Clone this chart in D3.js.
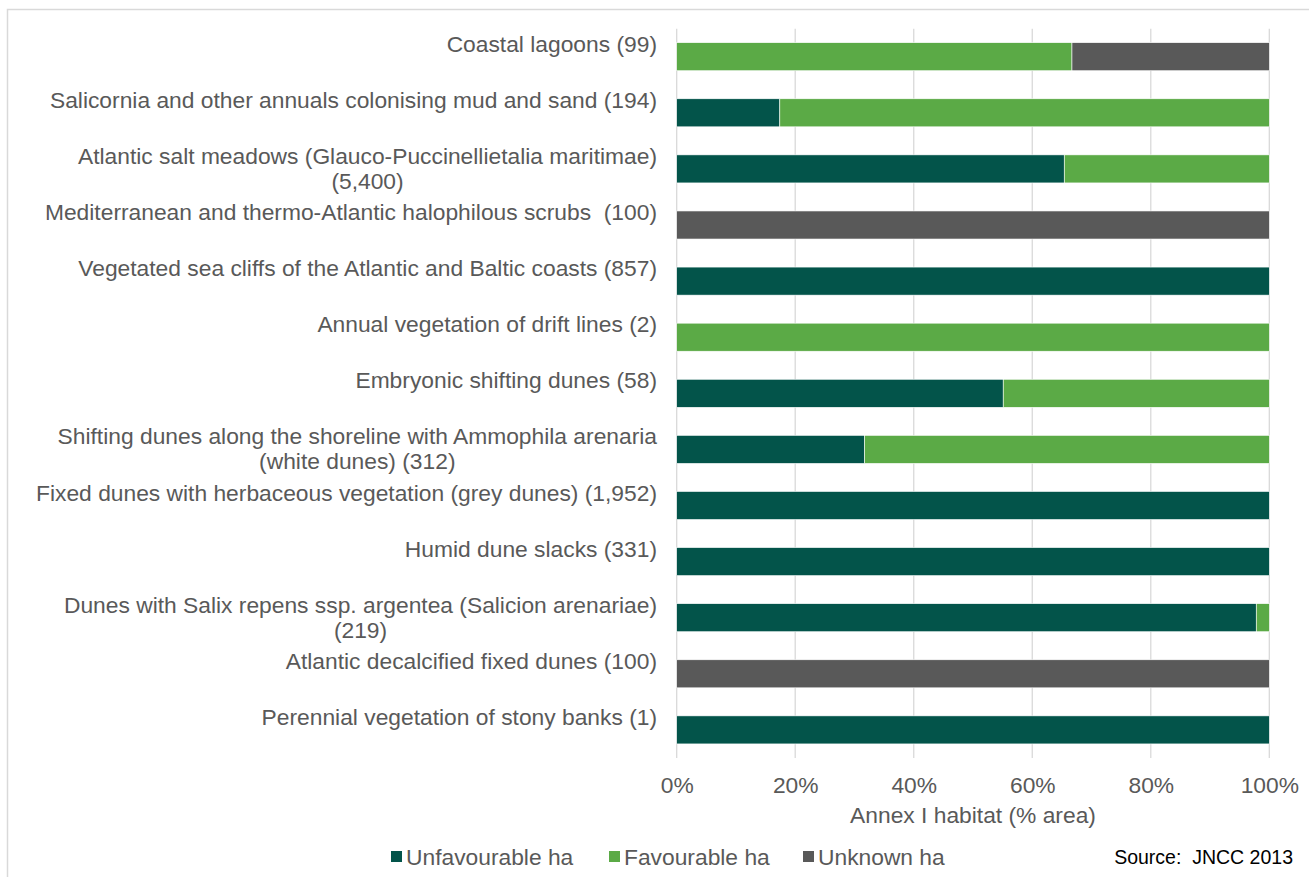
<!DOCTYPE html>
<html>
<head>
<meta charset="utf-8">
<script src="https://cdn.jsdelivr.net/npm/d3@7"></script>
<style>
  html, body { margin: 0; padding: 0; background: #fff; }
  svg { display: block; font-family: "Liberation Sans", Arial, sans-serif; }
</style>
</head>
<body>
<svg id="chart" width="1309" height="877"></svg>
<script>
// ---- data ----
const categories = [
  ["Coastal lagoons (99)"],
  ["Salicornia and other annuals colonising mud and sand (194)"],
  ["Atlantic salt meadows (Glauco-Puccinellietalia maritimae)", "(5,400)"],
  ["Mediterranean and thermo-Atlantic halophilous scrubs  (100)"],
  ["Vegetated sea cliffs of the Atlantic and Baltic coasts (857)"],
  ["Annual vegetation of drift lines (2)"],
  ["Embryonic shifting dunes (58)"],
  ["Shifting dunes along the shoreline with Ammophila arenaria", "(white dunes) (312)"],
  ["Fixed dunes with herbaceous vegetation (grey dunes) (1,952)"],
  ["Humid dune slacks (331)"],
  ["Dunes with Salix repens ssp. argentea (Salicion arenariae)", "(219)"],
  ["Atlantic decalcified fixed dunes (100)"],
  ["Perennial vegetation of stony banks (1)"]
];
const unfavourable = [0, 17.4, 65.4, 0, 100, 0, 55.1, 31.7, 100, 100, 97.8, 0, 100];
const favourable   = [66.7, 82.6, 34.6, 0, 0, 100, 44.9, 68.3, 0, 0, 2.2, 0, 0];
const unknown      = [33.3, 0, 0, 100, 0, 0, 0, 0, 0, 0, 0, 100, 0];
const seriesNames = ["Unfavourable ha", "Favourable ha", "Unknown ha"];
const seriesColors = ["#03544a", "#5baa46", "#595959"];
const xTicks = [0, 20, 40, 60, 80, 100];
const xTitle = "Annex I habitat (% area)";
const sourceText = "Source:  JNCC 2013";

// ---- layout ----
const svg = d3.select("#chart");
const textColor = "#595959";
const fontSize = 22.8;

svg.append("rect")
  .attr("x", 7.5).attr("y", 9.5).attr("width", 1320).attr("height", 900)
  .attr("fill", "#fff").attr("stroke", "#d9d9d9").attr("stroke-width", 1.5);

const x = d3.scaleLinear().domain([0, 100]).range([676.7, 1269.3]);
const idx = categories.map((d, i) => i);
const y = d3.scaleBand().domain(idx).range([28.65, 757.95]).paddingInner(0.5).paddingOuter(0.25);

// gridlines
svg.append("g")
  .selectAll("line").data(xTicks).join("line")
  .attr("x1", d => x(d)).attr("x2", d => x(d))
  .attr("y1", 28.65).attr("y2", 757.95)
  .attr("stroke", "#d9d9d9").attr("stroke-width", 1.3);

// stacked bars
const rows = idx.map(i => ({ i, u: unfavourable[i], f: favourable[i], k: unknown[i] }));
const stack = d3.stack().keys(["u", "f", "k"])(rows);
svg.append("g").selectAll("g").data(stack).join("g")
  .attr("fill", (d, j) => seriesColors[j])
  .selectAll("rect").data(d => d.filter(p => p[1] - p[0] > 0)).join("rect")
  .attr("x", d => x(d[0]))
  .attr("width", d => x(d[1]) - x(d[0]))
  .attr("y", d => y(d.data.i))
  .attr("height", y.bandwidth())
  .attr("stroke", "#ffffff").attr("stroke-width", 0.6);

// category labels
const lab = svg.append("g").attr("fill", textColor).attr("font-size", fontSize).attr("text-anchor", "end");
categories.forEach((lines, i) => {
  const cy = y(i) + y.bandwidth() / 2;
  const t = lab.append("text").attr("dominant-baseline", "central").style("white-space", "pre");
  t.append("tspan").attr("x", 657).attr("y", cy - 13).text(lines[0]);
  if (lines.length === 2) {
    t.append("tspan").attr("y", cy + 12).attr("text-anchor", "middle").text(lines[1]);
  }
});
// center second lines under first line
lab.selectAll("text").each(function() {
  const tsp = d3.select(this).selectAll("tspan").nodes();
  if (tsp.length === 2) {
    const w = tsp[0].getComputedTextLength();
    d3.select(tsp[1]).attr("x", 657 - w / 2);
  }
});

// x axis tick labels
const xAxis = d3.axisBottom(x).tickValues(xTicks).tickFormat(d => d + "%").tickSize(0).tickPadding(0);
const ax = svg.append("g").attr("transform", "translate(0,785)").call(xAxis);
ax.select(".domain").remove();
ax.selectAll("text").attr("fill", textColor).attr("font-size", fontSize)
  .attr("font-family", "Liberation Sans, Arial, sans-serif")
  .attr("dy", null).attr("y", 0).attr("dominant-baseline", "central");

// axis title
svg.append("text").attr("x", (x(0) + x(100)) / 2).attr("y", 815)
  .attr("text-anchor", "middle").attr("dominant-baseline", "central")
  .attr("fill", textColor).attr("font-size", fontSize).text(xTitle);

// legend
const legendX = [391, 609, 803];
const lg = svg.append("g");
seriesNames.forEach((n, j) => {
  lg.append("rect").attr("x", legendX[j]).attr("y", 851).attr("width", 11).attr("height", 11)
    .attr("fill", seriesColors[j]);
  lg.append("text").attr("x", legendX[j] + 15).attr("y", 856.5)
    .attr("dominant-baseline", "central").attr("fill", textColor).attr("font-size", fontSize).text(n);
});

// source
svg.append("text").attr("x", 1293).attr("y", 856.5).attr("text-anchor", "end")
  .attr("dominant-baseline", "central").attr("fill", "#000").attr("font-size", 19.5)
  .style("white-space", "pre").text(sourceText);
</script>
</body>
</html>
